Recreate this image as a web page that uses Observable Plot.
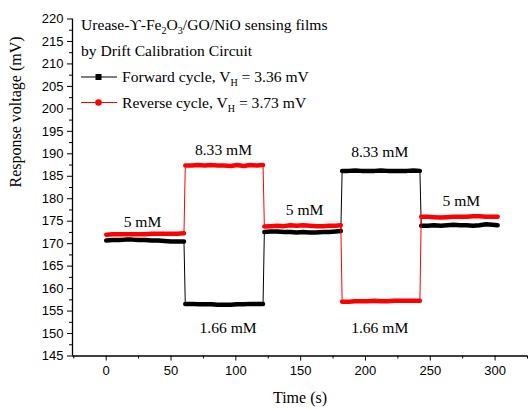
<!DOCTYPE html>
<html><head><meta charset="utf-8">
<script src="https://cdn.jsdelivr.net/npm/d3@7"></script>
<script src="https://cdn.jsdelivr.net/npm/@observablehq/plot@0.6"></script>
<style>body{margin:0;background:#fff}</style>
</head><body><div id="chart"></div>
<script>
const time = [0,5,10,15,20,25,30,35,40,45,50,55,60,
  61,66,71,76,81,86,91,96,101,106,111,116,121,
  122,127,132,137,142,147,152,157,162,167,172,177,181,
  182,187,192,197,202,207,212,217,222,227,232,237,242,
  243,248,253,258,263,268,273,278,283,288,293,298,302];
const forward = [170.7,170.8,170.8,170.9,170.9,170.8,170.8,170.7,170.7,170.6,170.5,170.5,170.5,
  156.6,156.6,156.5,156.5,156.5,156.4,156.4,156.4,156.5,156.5,156.6,156.6,156.6,
  172.6,172.7,172.7,172.6,172.6,172.5,172.6,172.5,172.5,172.6,172.6,172.7,172.8,
  186.2,186.2,186.3,186.2,186.2,186.2,186.3,186.2,186.2,186.2,186.2,186.3,186.2,
  174.0,174.0,174.1,174.0,174.1,174.2,174.1,174.1,174.0,174.1,174.3,174.2,174.1];
const reverse = [172.0,172.1,172.1,172.1,172.1,172.1,172.1,172.2,172.2,172.2,172.2,172.2,172.3,
  187.4,187.4,187.5,187.4,187.5,187.4,187.4,187.3,187.5,187.3,187.5,187.4,187.5,
  173.8,173.9,174.0,173.9,174.1,174.0,174.1,174.0,173.9,173.9,174.0,174.0,174.1,
  157.1,157.1,157.2,157.2,157.2,157.3,157.2,157.2,157.3,157.3,157.3,157.3,157.3,
  176.0,176.0,175.9,175.8,175.9,176.0,176.0,176.0,176.1,176.1,176.0,176.0,176.0];
const segmentSize = 13;
const seriesNames = ["Forward", "Reverse"];
const seriesColors = ["#000000", "#ff0000"];
const labels = ["5 mM","8.33 mM","1.66 mM","5 mM","8.33 mM","1.66 mM","5 mM"];
const labelX = [28,90.5,94,153,211,211,274];
const labelY = [174.9,190.9,151.2,177.4,190.3,151.2,179.4];
const xTicks = [0,50,100,150,200,250,300];
const xMinor = [-25,25,75,125,175,225,275,325];
const yTicks = [145,150,155,160,165,170,175,180,185,190,195,200,205,210,215,220];
const yMinor = [147.5,152.5,157.5,162.5,167.5,172.5,177.5,182.5,187.5,192.5,197.5,202.5,207.5,212.5,217.5];

const rowsF = time.map((t,i)=>({t, v: forward[i], s: "Forward", seg: Math.floor(i/segmentSize)}));
const rowsR = time.map((t,i)=>({t, v: reverse[i], s: "Reverse", seg: Math.floor(i/segmentSize)}));
const serif = "Liberation Serif, Times New Roman, serif";

function seriesMarks(rows){
  return [
    Plot.line(rows, {x:"t", y:"v", stroke:"s", strokeWidth:1}),
    Plot.line(rows, {x:"t", y:"v", z:"seg", stroke:"s", strokeWidth:4.5, strokeLinecap:"round", strokeLinejoin:"round"})
  ];
}

const plot = Plot.plot({
  width:529, height:409,
  marginLeft:72, marginRight:2, marginTop:18.5, marginBottom:53.5,
  x:{domain:[-26,325]},
  y:{domain:[145,220]},
  color:{domain:seriesNames, range:seriesColors},
  style:{fontFamily:"Liberation Sans, Arial, sans-serif", fontSize:"13px", color:"black", background:"white"},
  marks:[
    Plot.axisX({ticks:xTicks, tickSize:5, tickPadding:5, fontSize:13, label:null}),
    Plot.axisX({ticks:xMinor, tickSize:3, tickFormat:()=>"", label:null}),
    Plot.axisY({ticks:yTicks, tickSize:5, tickPadding:4, fontSize:13, label:null}),
    Plot.axisY({ticks:yMinor, tickSize:3, tickFormat:()=>"", label:null}),
    Plot.ruleX([-26], {strokeWidth:1.3}),
    Plot.ruleY([145], {strokeWidth:1.3}),
    ...seriesMarks(rowsF),
    ...seriesMarks(rowsR),
    Plot.text(labels, {x:(d,i)=>labelX[i], y:(d,i)=>labelY[i], text:d=>d, fontFamily:serif, fontSize:15.6, fill:"black"}),
    Plot.text(["Time (s)"], {frameAnchor:"bottom", dy:47, fontFamily:serif, fontSize:16, fill:"black"}),
    Plot.text(["Response voltage (mV)"], {frameAnchor:"left", dx:-57, rotate:-90, fontFamily:serif, fontSize:16, fill:"black"})
  ]
});
document.getElementById("chart").appendChild(plot);

const svg = d3.select(plot);
const g = svg.append("g").attr("font-family", serif).attr("font-size", 15.6).attr("fill", "black").attr("text-anchor", "start");
function richText(x, y, parts){
  const t = g.append("text").attr("x", x).attr("y", y).attr("text-anchor", "start");
  let shifted = false;
  parts.forEach(p => {
    const sub = Array.isArray(p);
    const s = t.append("tspan").text(sub ? p[0] : p);
    if (sub && !shifted) { s.attr("font-size", 10).attr("dy", 4); shifted = true; }
    else if (!sub && shifted) { s.attr("dy", -4); shifted = false; }
  });
}
richText(81, 30, ["Urease-ϒ-Fe", ["2"], "O", ["3"], "/GO/NiO sensing films"]);
richText(81, 55.5, ["by Drift Calibration Circuit"]);
const legendY = [77, 102.5];
const legendText = [["Forward cycle, V", ["H"], " = 3.36 mV"], ["Reverse cycle, V", ["H"], " = 3.73 mV"]];
seriesNames.forEach((n, i) => {
  g.append("line").attr("x1", 81).attr("x2", 117).attr("y1", legendY[i]).attr("y2", legendY[i])
    .attr("stroke", seriesColors[i]).attr("stroke-width", 1.2);
  if (i === 0) g.append("rect").attr("x", 95.5).attr("y", legendY[i]-3).attr("width", 6).attr("height", 6).attr("fill", seriesColors[i]);
  else g.append("circle").attr("cx", 98.5).attr("cy", legendY[i]).attr("r", 3.3).attr("fill", seriesColors[i]);
  richText(122, legendY[i] + 5, legendText[i]);
});
</script>
</body></html>
